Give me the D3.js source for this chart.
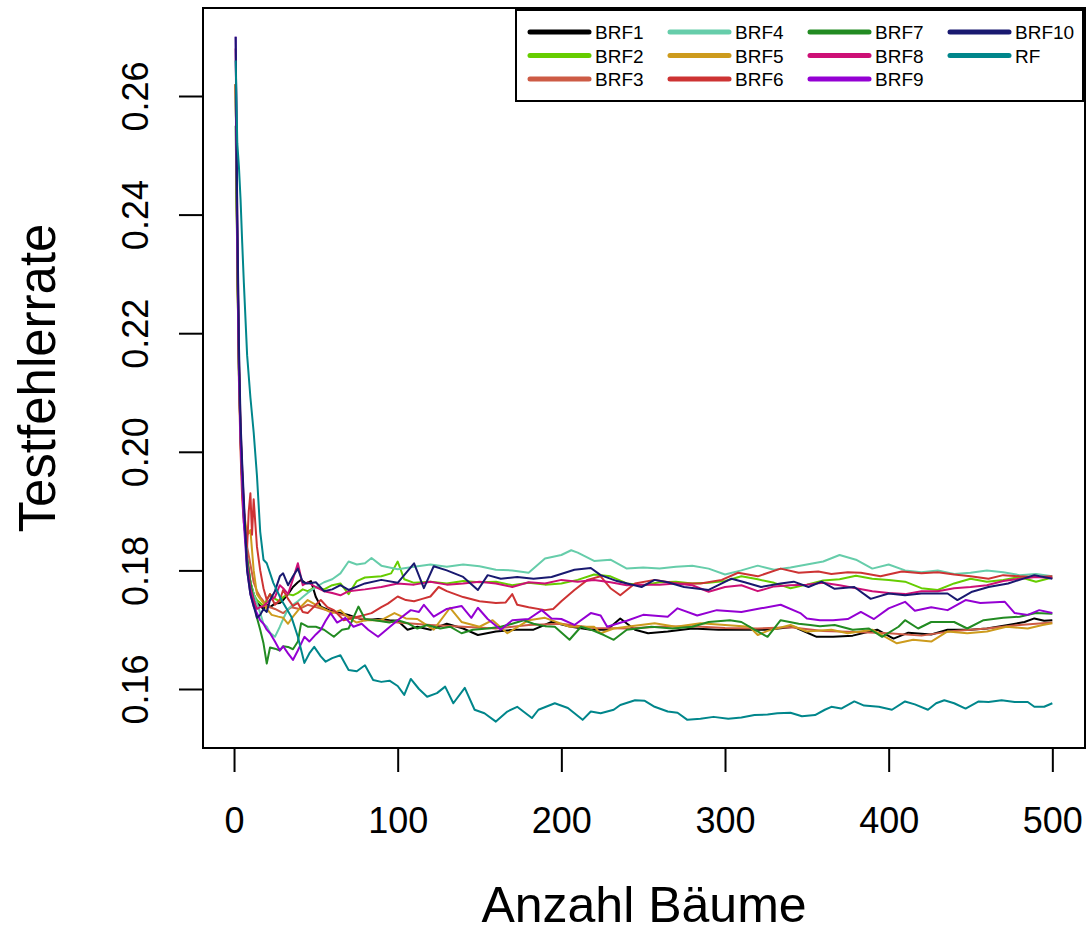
<!DOCTYPE html>
<html lang="de">
<head>
    <meta charset="utf-8">
    <title>Testfehlerrate</title>
    <script type="text/javascript" src="https://cdn.jsdelivr.net/npm/d3@7"></script>
    <style>
        body { margin: 0; background: #fff; }
        text { font-family: "Liberation Sans", Arial, Helvetica, sans-serif; fill: #000; }
    </style>
</head>
<body>
    <svg width="1091" height="935"></svg>
    <script>
        var brf1 = [[1,0.262],[2,0.234],[3,0.215],[4,0.203],[5,0.196],[6,0.190],[8,0.182],[10,0.178],[12,0.176],[14,0.1745],[16,0.174],[18,0.1735],[20,0.1742],[22,0.1738],[25,0.1744],[28,0.1745],[30,0.175],[33,0.176],[36,0.1772],[39,0.178],[41,0.1784],[44,0.1778],[47,0.1782],[50,0.1755],[53,0.1739],[58,0.1733],[65,0.1728],[70,0.1725],[75,0.172],[80,0.1716],[88,0.1718],[95,0.1716],[100,0.1715],[106,0.170],[112,0.1705],[120,0.170],[130,0.171],[140,0.1702],[149,0.1691],[160,0.1697],[172,0.170],[183,0.170],[194,0.1713],[206,0.1705],[218,0.170],[228,0.170],[236,0.1719],[245,0.170],[253,0.1694],[265,0.1697],[280,0.1702],[296,0.170],[310,0.170],[326,0.170],[342,0.1705],[356,0.1688],[366,0.1688],[378,0.169],[393,0.170],[403,0.1685],[412,0.1695],[426,0.1692],[436,0.170],[450,0.170],[460,0.1702],[473,0.1708],[483,0.1713],[489,0.1719],[495,0.1715],[500,0.1716]];
        var brf2 = [[1,0.262],[2,0.232],[3,0.213],[4,0.202],[5,0.194],[6,0.189],[8,0.181],[10,0.178],[12,0.176],[14,0.175],[16,0.1745],[18,0.174],[20,0.175],[22,0.176],[25,0.1752],[28,0.1748],[30,0.1755],[33,0.176],[36,0.1758],[39,0.1762],[42,0.1768],[45,0.1765],[50,0.1772],[55,0.1768],[60,0.1775],[65,0.1778],[70,0.176],[75,0.1782],[80,0.1788],[90,0.179],[96,0.1795],[100,0.1815],[104,0.1785],[110,0.1779],[120,0.1781],[130,0.1778],[140,0.1782],[150,0.178],[160,0.1781],[170,0.1775],[180,0.1779],[190,0.1776],[200,0.1778],[210,0.1784],[220,0.1793],[230,0.179],[240,0.1778],[250,0.1775],[260,0.178],[270,0.1781],[280,0.1778],[290,0.1779],[300,0.1782],[310,0.179],[320,0.1785],[330,0.1779],[340,0.177],[350,0.1776],[360,0.1783],[370,0.1785],[380,0.1791],[390,0.1786],[400,0.1784],[410,0.1781],[420,0.177],[430,0.1767],[440,0.1778],[450,0.1786],[460,0.1781],[470,0.1784],[480,0.1789],[490,0.1781],[500,0.1788]];
        var brf3 = [[1,0.262],[2,0.233],[3,0.214],[4,0.202],[5,0.195],[6,0.190],[8,0.184],[10,0.181],[12,0.178],[14,0.1765],[16,0.1755],[18,0.1748],[20,0.174],[25,0.1735],[30,0.1728],[35,0.1738],[40,0.1735],[45,0.1742],[50,0.1738],[60,0.173],[70,0.1722],[80,0.1718],[90,0.1715],[100,0.1712],[120,0.1708],[140,0.1705],[160,0.1702],[180,0.1708],[200,0.171],[220,0.1703],[240,0.1702],[260,0.1705],[280,0.1706],[300,0.1703],[320,0.1702],[340,0.1704],[360,0.1698],[380,0.1696],[400,0.1694],[420,0.169],[440,0.1698],[460,0.1702],[480,0.1708],[500,0.1712]];
        var brf4 = [[1,0.260],[2,0.236],[3,0.214],[4,0.203],[5,0.196],[6,0.190],[8,0.182],[10,0.178],[12,0.176],[14,0.1745],[16,0.1728],[18,0.171],[20,0.1705],[22,0.1695],[25,0.1688],[28,0.1705],[30,0.1718],[33,0.1735],[36,0.1742],[39,0.1748],[42,0.1755],[45,0.1762],[50,0.1772],[55,0.178],[60,0.1785],[65,0.1795],[70,0.1815],[75,0.181],[80,0.1812],[84,0.1821],[90,0.1808],[100,0.1802],[110,0.1806],[120,0.181],[130,0.1806],[140,0.181],[150,0.1807],[160,0.1801],[170,0.18],[180,0.1796],[190,0.182],[200,0.1826],[206,0.1834],[210,0.183],[220,0.1816],[230,0.1818],[240,0.1803],[250,0.1805],[260,0.1803],[270,0.1806],[280,0.1808],[290,0.1803],[300,0.1793],[310,0.18],[320,0.1808],[330,0.1801],[340,0.1805],[350,0.181],[360,0.1815],[370,0.1826],[380,0.1818],[390,0.1803],[400,0.181],[410,0.18],[420,0.1797],[430,0.18],[440,0.1794],[450,0.1796],[460,0.18],[470,0.1797],[480,0.1792],[490,0.1794],[500,0.179]];
        var brf5 = [[1,0.262],[2,0.234],[3,0.214],[4,0.202],[5,0.195],[6,0.190],[8,0.186],[10,0.1868],[12,0.180],[14,0.176],[16,0.1752],[18,0.1745],[20,0.1735],[23,0.1725],[27,0.1722],[30,0.172],[33,0.171],[36,0.1722],[41,0.1739],[45,0.175],[50,0.1742],[55,0.1735],[60,0.1728],[65,0.1733],[70,0.172],[75,0.1712],[80,0.1716],[90,0.1716],[98,0.1728],[105,0.1719],[112,0.1718],[122,0.170],[132,0.1737],[139,0.1713],[150,0.1705],[158,0.1716],[167,0.1694],[180,0.1716],[190,0.172],[205,0.1705],[220,0.1705],[224,0.1694],[232,0.1702],[240,0.1705],[257,0.1711],[270,0.1705],[285,0.1711],[300,0.1708],[315,0.1705],[320,0.1691],[326,0.1698],[340,0.1708],[350,0.1697],[365,0.170],[375,0.1694],[390,0.170],[405,0.1677],[415,0.1683],[426,0.168],[436,0.1697],[448,0.1694],[460,0.1697],[472,0.1705],[485,0.1702],[494,0.1708],[500,0.1711]];
        var brf6 = [[1,0.262],[2,0.232],[3,0.212],[4,0.200],[5,0.192],[6,0.188],[8,0.184],[9,0.190],[10,0.193],[11,0.186],[12,0.192],[13,0.188],[14,0.184],[16,0.180],[18,0.177],[20,0.175],[22,0.176],[25,0.1742],[28,0.175],[30,0.1767],[33,0.1752],[36,0.174],[39,0.1745],[42,0.173],[45,0.1728],[50,0.1742],[53,0.175],[57,0.1738],[61,0.1733],[67,0.1716],[73,0.172],[80,0.1725],[84,0.1728],[90,0.1738],[94,0.1744],[100,0.1756],[105,0.175],[110,0.1748],[115,0.1752],[120,0.1756],[125,0.1772],[130,0.1765],[140,0.1755],[150,0.1748],[160,0.1745],[166,0.1746],[170,0.176],[173,0.1742],[180,0.1738],[190,0.1733],[195,0.1735],[200,0.1748],[208,0.1767],[216,0.1784],[224,0.179],[230,0.177],[236,0.1758],[245,0.1778],[257,0.1784],[271,0.1778],[285,0.1778],[298,0.1784],[308,0.1796],[320,0.179],[334,0.1803],[345,0.1796],[357,0.1798],[365,0.1794],[375,0.1797],[383,0.1796],[395,0.179],[408,0.1798],[420,0.1795],[430,0.1797],[440,0.1793],[450,0.179],[461,0.1786],[470,0.1792],[480,0.179],[490,0.1789],[500,0.179]];
        var brf7 = [[1,0.255],[2,0.232],[3,0.213],[4,0.203],[5,0.195],[6,0.189],[8,0.182],[10,0.178],[12,0.175],[14,0.172],[16,0.170],[18,0.1677],[20,0.1643],[22,0.167],[25,0.1668],[28,0.1665],[30,0.1672],[33,0.1671],[36,0.1667],[39,0.168],[41,0.1711],[45,0.1705],[50,0.1705],[55,0.170],[61,0.1688],[66,0.170],[70,0.1702],[76,0.1739],[80,0.1718],[88,0.1715],[95,0.1712],[100,0.1716],[106,0.1711],[112,0.1702],[118,0.1708],[126,0.1702],[132,0.1705],[139,0.1694],[146,0.170],[155,0.1702],[163,0.1705],[170,0.171],[177,0.1716],[183,0.171],[190,0.1706],[196,0.1705],[205,0.1683],[212,0.1705],[218,0.170],[226,0.1691],[232,0.1683],[240,0.170],[255,0.1705],[268,0.1702],[280,0.1705],[290,0.1713],[303,0.1716],[310,0.1713],[318,0.170],[326,0.1688],[334,0.1716],[345,0.171],[352,0.1708],[358,0.1706],[367,0.1708],[378,0.170],[388,0.1702],[396,0.1688],[406,0.1705],[410,0.1716],[418,0.1702],[426,0.1713],[440,0.1713],[448,0.1702],[458,0.1716],[470,0.172],[480,0.1722],[490,0.1728],[500,0.1727]];
        var brf8 = [[1,0.268],[2,0.238],[3,0.216],[4,0.204],[5,0.197],[6,0.191],[8,0.181],[10,0.177],[12,0.175],[14,0.1735],[16,0.1738],[18,0.174],[20,0.1745],[22,0.175],[25,0.1755],[28,0.1775],[30,0.177],[33,0.176],[36,0.1785],[39,0.1812],[42,0.1775],[45,0.178],[50,0.1772],[55,0.1765],[60,0.1762],[65,0.1758],[70,0.1765],[80,0.1768],[90,0.1772],[100,0.1778],[110,0.1776],[120,0.1781],[130,0.1776],[140,0.1778],[150,0.1781],[160,0.1778],[170,0.1772],[180,0.178],[190,0.1778],[200,0.1784],[210,0.1781],[220,0.1784],[230,0.178],[240,0.1775],[250,0.1776],[260,0.1776],[270,0.1778],[280,0.1775],[290,0.1764],[300,0.1772],[310,0.1775],[320,0.1765],[330,0.1773],[340,0.1775],[350,0.1776],[360,0.1779],[370,0.1775],[380,0.177],[390,0.1765],[400,0.1762],[410,0.176],[420,0.1765],[430,0.1765],[440,0.177],[450,0.1772],[460,0.1775],[470,0.1782],[480,0.1786],[490,0.1789],[500,0.1787]];
        var brf9 = [[1,0.270],[2,0.236],[3,0.214],[4,0.202],[5,0.195],[6,0.188],[8,0.180],[10,0.176],[12,0.1739],[14,0.1728],[16,0.1716],[18,0.171],[20,0.170],[22,0.1694],[25,0.168],[28,0.1665],[30,0.1672],[33,0.166],[36,0.1649],[39,0.1665],[43,0.1688],[46,0.168],[50,0.1692],[53,0.170],[56,0.1715],[59,0.1728],[63,0.1712],[68,0.172],[73,0.1705],[78,0.171],[82,0.170],[88,0.1688],[94,0.1702],[100,0.1716],[108,0.1733],[113,0.173],[116,0.1742],[122,0.1722],[130,0.1735],[139,0.174],[145,0.172],[149,0.1737],[155,0.1718],[163,0.170],[170,0.1716],[180,0.1718],[188,0.1733],[194,0.1719],[200,0.1718],[208,0.1708],[218,0.1728],[224,0.1724],[228,0.1705],[234,0.171],[240,0.1715],[250,0.1725],[265,0.1722],[271,0.1736],[283,0.1724],[295,0.1733],[310,0.173],[322,0.1736],[334,0.1742],[346,0.1728],[350,0.1719],[358,0.1716],[366,0.1716],[375,0.1718],[383,0.173],[391,0.1718],[400,0.1736],[410,0.1747],[416,0.1732],[426,0.1738],[436,0.1733],[447,0.175],[456,0.1745],[471,0.1747],[477,0.1728],[485,0.1725],[492,0.1733],[500,0.1728]];
        var brf10 = [[1,0.270],[2,0.240],[3,0.218],[4,0.205],[5,0.198],[6,0.192],[8,0.180],[10,0.176],[12,0.174],[14,0.172],[16,0.1725],[18,0.1735],[20,0.173],[22,0.175],[25,0.1765],[28,0.179],[30,0.1795],[33,0.1775],[36,0.179],[39,0.1803],[42,0.178],[45,0.1778],[50,0.178],[55,0.1765],[60,0.1768],[65,0.1775],[70,0.1767],[80,0.1778],[90,0.1784],[100,0.1779],[110,0.1812],[116,0.177],[122,0.1807],[130,0.18],[140,0.1789],[149,0.1767],[155,0.1792],[163,0.1786],[173,0.1789],[183,0.1786],[194,0.1789],[208,0.1801],[218,0.1804],[224,0.1792],[234,0.1782],[249,0.1772],[257,0.1784],[265,0.178],[275,0.1772],[290,0.1767],[304,0.1786],[312,0.178],[322,0.1772],[334,0.1778],[342,0.1781],[351,0.1772],[359,0.1781],[367,0.1769],[379,0.1772],[389,0.1752],[400,0.1761],[410,0.1758],[420,0.1761],[436,0.1761],[442,0.175],[451,0.1764],[461,0.1772],[473,0.1778],[489,0.1792],[500,0.1786]];
        var rf = [[1,0.266],[2,0.252],[3,0.248],[4,0.2425],[5,0.2352],[6,0.2285],[8,0.2163],[10,0.2092],[12,0.2033],[14,0.196],[16,0.1865],[18,0.1818],[20,0.1812],[24,0.1779],[29,0.175],[35,0.1722],[39,0.1688],[43,0.1644],[46,0.166],[49,0.1671],[53,0.1655],[56,0.1646],[60,0.1652],[65,0.1657],[70,0.1632],[75,0.163],[80,0.164],[85,0.1615],[90,0.1612],[95,0.1614],[100,0.1605],[104,0.159],[108,0.1617],[113,0.160],[118,0.1587],[124,0.1593],[129,0.1604],[134,0.1576],[141,0.1602],[147,0.1565],[153,0.1559],[160,0.1545],[167,0.1562],[173,0.157],[182,0.1551],[186,0.1565],[196,0.1576],[204,0.1568],[213,0.1548],[218,0.1562],[224,0.1559],[232,0.1565],[236,0.1573],[245,0.1581],[251,0.158],[257,0.157],[265,0.1562],[271,0.156],[277,0.1548],[285,0.155],[293,0.1553],[302,0.155],[310,0.1552],[318,0.1556],[326,0.1557],[332,0.1559],[340,0.156],[347,0.1554],[355,0.1556],[361,0.1565],[365,0.157],[371,0.1567],[379,0.1579],[385,0.1572],[394,0.157],[402,0.1565],[410,0.1579],[416,0.1574],[424,0.1565],[429,0.1576],[434,0.1581],[440,0.1576],[447,0.1567],[455,0.1579],[461,0.1578],[469,0.1581],[477,0.1578],[485,0.1578],[489,0.157],[495,0.157],[500,0.1576]];

        var names = ["BRF1", "BRF2", "BRF3", "BRF4", "BRF5", "BRF6", "BRF7", "BRF8", "BRF9", "BRF10", "RF"];
        var colors = ["#000000", "#66CD00", "#CD5B45", "#66CDAA", "#CD9B1D", "#CD3333", "#228B22", "#CD1076", "#9400D3", "#191970", "#00868B"];
        var xTicks = [0, 100, 200, 300, 400, 500];
        var yTicks = [0.16, 0.18, 0.20, 0.22, 0.24, 0.26];
        var series = [brf1, brf2, brf3, brf4, brf5, brf6, brf7, brf8, brf9, brf10, rf];

        (function () {
            var svg = d3.select("svg");
            // Plotbereich wie in R (4% Erweiterung)
            var pLeft = 203, pRight = 1085, pTop = 8, pBottom = 748;
            var x = d3.scaleLinear().domain([-18.96, 519.96]).range([pLeft, pRight]);
            var y = d3.scaleLinear().domain([0.15005, 0.27484]).range([pBottom, pTop]);

            var line = d3.line()
                .x(function (d) { return x(d[0]); })
                .y(function (d) { return y(d[1]); });

            svg.append("g").selectAll("path")
                .data(series)
                .enter()
                .append("path")
                .attr("d", line)
                .attr("fill", "none")
                .attr("stroke", function (d, i) { return colors[i]; })
                .attr("stroke-width", 2)
                .attr("stroke-linejoin", "round");

            // Rahmen
            svg.append("rect")
                .attr("x", pLeft).attr("y", pTop)
                .attr("width", pRight - pLeft).attr("height", pBottom - pTop)
                .attr("fill", "none").attr("stroke", "black").attr("stroke-width", 2);

            // x-Achse
            var xAxis = svg.append("g")
                .attr("transform", "translate(0," + pBottom + ")")
                .call(d3.axisBottom(x).tickValues(xTicks).tickSize(24).tickPadding(0).tickFormat(d3.format("d")));
            xAxis.select(".domain").remove();
            xAxis.selectAll(".tick line").attr("stroke-width", 2);
            xAxis.selectAll(".tick text")
                .attr("y", 85).attr("dy", null)
                .style("font-size", "36px");

            // y-Achse (Beschriftung gedreht wie in R)
            var yAxis = svg.append("g")
                .attr("transform", "translate(" + pLeft + ",0)")
                .call(d3.axisLeft(y).tickValues(yTicks).tickSize(24).tickFormat(d3.format(".2f")));
            yAxis.select(".domain").remove();
            yAxis.selectAll(".tick line").attr("stroke-width", 2);
            yAxis.selectAll(".tick text")
                .attr("x", null).attr("dy", null)
                .attr("text-anchor", "middle")
                .attr("transform", "translate(-55,0) rotate(-90)")
                .style("font-size", "36px");

            svg.append("text")
                .attr("x", (pLeft + pRight) / 2).attr("y", 922)
                .attr("text-anchor", "middle")
                .style("font-size", "50px")
                .text("Anzahl Bäume");

            svg.append("text")
                .attr("transform", "translate(55," + (pTop + pBottom) / 2 + ") rotate(-90)")
                .attr("text-anchor", "middle")
                .style("font-size", "51px")
                .text("Testfehlerrate");

            // Legende
            var legend = svg.append("g");
            legend.append("rect")
                .attr("x", 516).attr("y", 10).attr("width", 567).attr("height", 91)
                .attr("fill", "white").attr("stroke", "black").attr("stroke-width", 2);
            var colX = [530, 670, 810, 950];
            var rowY = [32, 55.5, 79];
            var item = legend.selectAll("g.item")
                .data(names)
                .enter()
                .append("g")
                .attr("class", "item")
                .attr("transform", function (d, i) {
                    return "translate(" + colX[Math.floor(i / 3)] + "," + rowY[i % 3] + ")";
                });
            item.append("line")
                .attr("x1", 0).attr("x2", 59)
                .attr("stroke", function (d, i) { return colors[i]; })
                .attr("stroke-width", 5)
                .attr("stroke-linecap", "round");
            item.append("text")
                .attr("x", 65).attr("y", 7)
                .style("font-size", "19px")
                .text(function (d) { return d; });
        })();
    </script>
</body>
</html>
